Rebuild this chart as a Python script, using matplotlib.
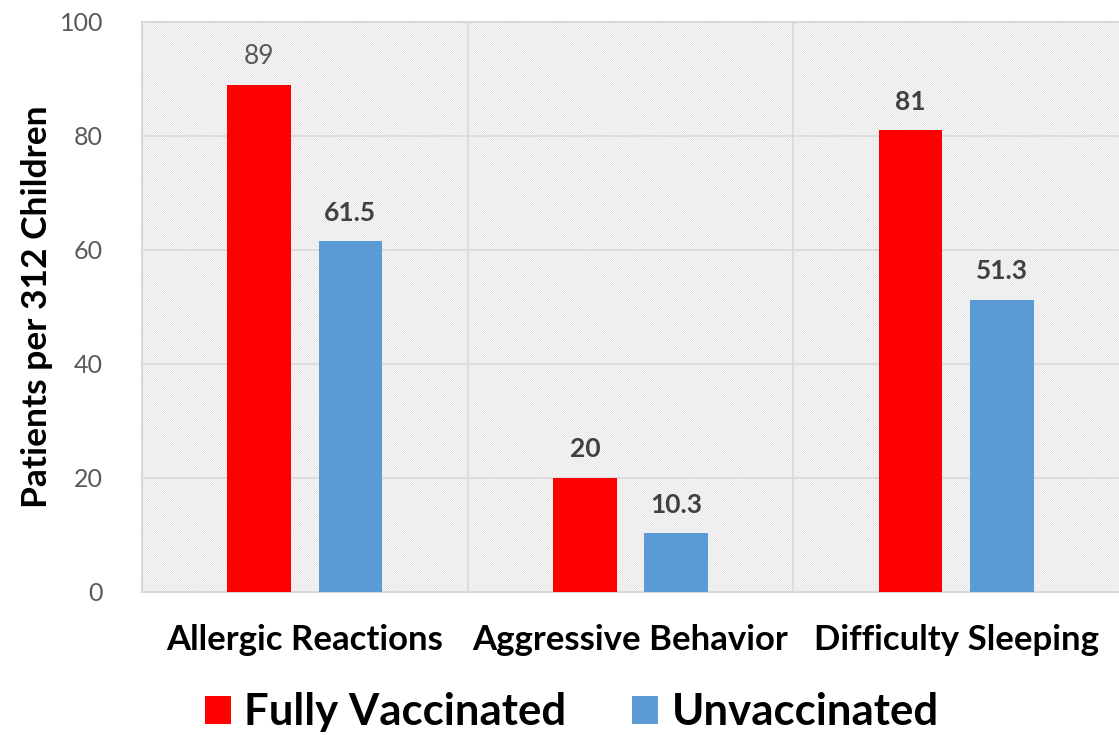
import matplotlib
matplotlib.use("Agg")
import matplotlib.pyplot as plt
from matplotlib.patches import Rectangle
import numpy as np

categories = ["Allergic Reactions", "Aggressive Behavior", "Difficulty Sleeping"]
fully_vaccinated = [89, 20, 81]
unvaccinated = [61.5, 10.3, 51.3]
fv_labels = ["89", "20", "81"]
uv_labels = ["61.5", "10.3", "51.3"]
yticks = [0, 20, 40, 60, 80, 100]

FONT = "Lato"
plt.rcParams['font.family'] = [FONT, 'DejaVu Sans']
plt.rcParams['hatch.linewidth'] = 0.45

fig = plt.figure(figsize=(11.19, 7.35), dpi=100)
ax = fig.add_axes([0.1269, 0.1946, 0.8731, 0.7755])

# hatched background
bg = Rectangle((0, 0), 1, 1, transform=ax.transAxes, facecolor='white',
               edgecolor='#dadada', hatch='\\' * 16, linewidth=0, zorder=0)
ax.add_patch(bg)

x = np.arange(len(categories))
w = 0.195
off = 0.14
ax.bar(x - off, fully_vaccinated, w, color='#FF0000', zorder=3, label='Fully Vaccinated')
ax.bar(x + off, unvaccinated, w, color='#5B9BD5', zorder=3, label='Unvaccinated')

for i in range(len(categories)):
    ax.text(x[i] - off, fully_vaccinated[i] + 5.0, fv_labels[i], ha='center', va='center',
            fontsize=19, color='#595959' if i == 0 else '#404040',
            fontweight='normal' if i == 0 else 'bold', zorder=4)
    ax.text(x[i] + off, unvaccinated[i] + 5.0, uv_labels[i], ha='center', va='center',
            fontsize=19, color='#404040', fontweight='bold', zorder=4)

ax.set_xlim(-0.5, 2.5)
ax.set_ylim(0, 100)
ax.set_yticks(yticks)
ax.set_yticklabels([str(t) for t in yticks], fontsize=18, color='#595959')
ax.set_xticks(x)
ax.set_xticklabels(categories, fontsize=25, fontweight='bold', color='black')
ax.tick_params(axis='both', length=0)
ax.tick_params(axis='x', pad=23)
ax.tick_params(axis='y', pad=28)

for yv in yticks[1:-1]:
    ax.axhline(yv, color='#d9d9d9', linewidth=1.2, zorder=1)
for xv in [0.5, 1.5]:
    ax.axvline(xv, color='#d9d9d9', linewidth=1.2, zorder=1)

for s in ['top', 'bottom', 'left']:
    ax.spines[s].set_color('#d9d9d9')
    ax.spines[s].set_linewidth(1.5)
ax.spines['right'].set_visible(False)

ax.set_ylabel("Patients per 312 Children", fontsize=25.5, fontweight='bold', color='black', labelpad=5)

leg = fig.legend(loc='center', bbox_to_anchor=(0.511, 0.031), ncol=2, frameon=False,
                 prop={'family': FONT, 'weight': 'bold', 'size': 31.5},
                 handlelength=0.6, handleheight=0.6, handletextpad=0.3, columnspacing=1.5)

fig.savefig("out.png", dpi=100)
